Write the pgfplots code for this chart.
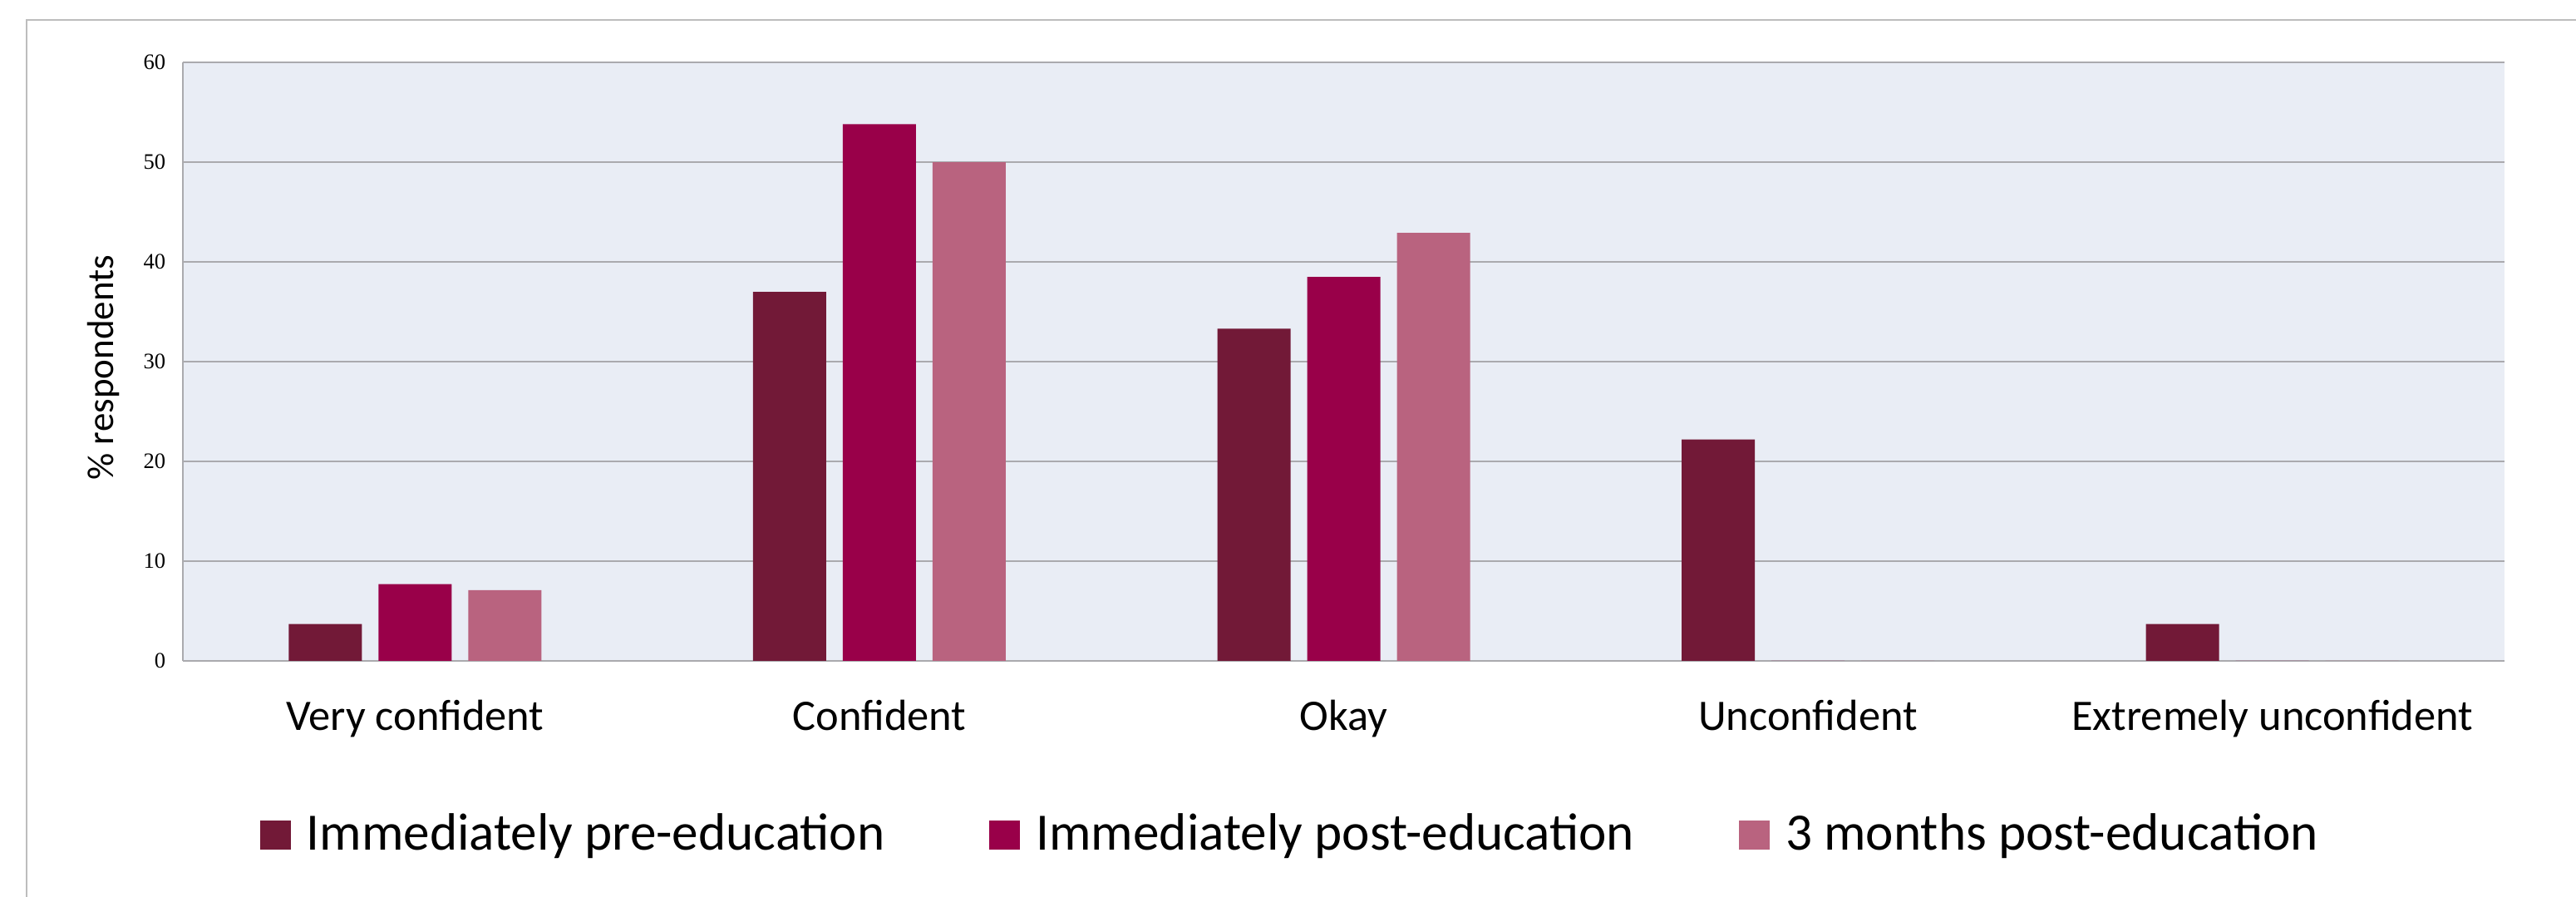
\documentclass[border=0pt]{standalone}
\usepackage{fontspec}
\setmainfont{Carlito}
\newfontfamily\timesfont{Liberation Serif}
\usepackage{pgfplots}
\pgfplotsset{compat=1.18}

\definecolor{preedu}{HTML}{721937}
\definecolor{postedu}{HTML}{990049}
\definecolor{threemo}{HTML}{B9637F}
\definecolor{plotbg}{HTML}{E9EDF5}
\definecolor{gridgray}{HTML}{AAAAAE}
\definecolor{framegray}{HTML}{BDBDBD}

\begin{document}
\begin{tikzpicture}
\begin{axis}[
    at={(0pt,0pt)}, anchor=south west,
    scale only axis,
    width=698.25pt, height=180pt,
    xmin=-0.5, xmax=4.5,
    ymin=0, ymax=60,
    axis x line*=bottom, axis y line*=left,
    axis line style={gridgray, line width=0.55pt, -},
    axis background/.style={fill=plotbg},
    ymajorgrids,
    grid style={gridgray, line width=0.55pt},
    xtick={0,1,2,3,4},
    xticklabels={Very confident, Confident, Okay, Unconfident, Extremely unconfident},
    ytick={0,10,20,30,40,50,60},
    major tick length=0pt,
    /pgf/number format/assume math mode=true,
    yticklabel style={font=\timesfont\fontsize{6.65}{8}\selectfont, anchor=east, inner sep=0pt, xshift=-5pt},
    xticklabel style={font=\fontsize{13.1}{15}\selectfont, anchor=base, inner sep=0pt, yshift=-21pt},
    ylabel={\% respondents},
    every axis y label/.style={at={([xshift=-20.75pt]rel axis cs:0,0.49)}, rotate=90, anchor=base,
        font=\fontsize{11.25}{13}\selectfont, inner sep=0pt},
    legend columns=3,
    legend image code/.code={\fill[#1] (0pt,-4.6pt) rectangle (9.25pt,4.15pt);},
    legend style={at={(rel axis cs:0.0329,-0.2903)}, anchor=west,
        draw=none, fill=none, inner sep=0pt,
        font=\fontsize{15.8}{18}\selectfont,
        nodes={inner sep=0pt},
        /tikz/every odd column/.append style={column sep=4.75pt},
        /tikz/every even column/.append style={column sep=31.5pt}},
]
% Immediately pre-education
\addplot[ybar, bar width=22pt, bar shift=-27pt, fill=preedu, draw=none]
    coordinates {(0,3.7) (1,37.0) (2,33.3) (3,22.2) (4,3.7)};
% Immediately post-education
\addplot[ybar, bar width=22pt, bar shift=0pt, fill=postedu, draw=none]
    coordinates {(0,7.7) (1,53.8) (2,38.5) (3,0) (4,0)};
% 3 months post-education
\addplot[ybar, bar width=22pt, bar shift=27pt, fill=threemo, draw=none]
    coordinates {(0,7.1) (1,50.0) (2,42.9) (3,0) (4,0)};
\legend{Immediately pre-education, Immediately post-education\hspace{3.5pt}, 3 months post-education}
\end{axis}
\draw[framegray, line width=0.5pt] (-47pt,-90pt) -- (-47pt,192.75pt) -- (740pt,192.75pt);
\pgfresetboundingbox
\path[use as bounding box] (-55pt,-71pt) rectangle (719.75pt,198.75pt);
\end{tikzpicture}
\end{document}
